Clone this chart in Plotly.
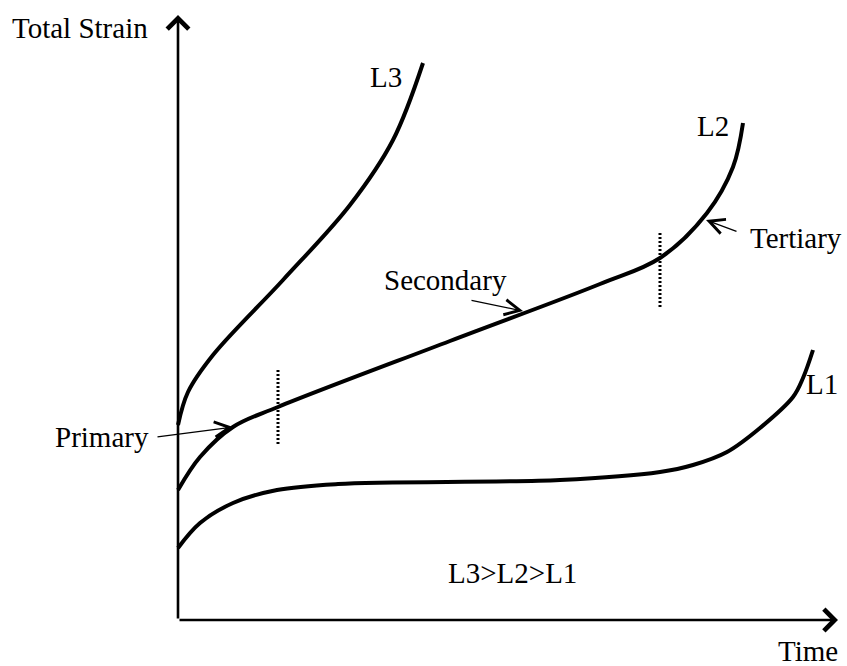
import plotly.graph_objects as go

# ---- data (arbitrary schematic units: time, total strain) ----
l3_time   = [0, 10, 35, 105, 172, 215, 245]
l3_strain = [195, 228, 265, 340, 415, 480, 557]

l2_time   = [0, 22, 55, 100, 272, 422, 482, 529, 555, 565]
l2_strain = [130, 163, 193, 213, 279, 336, 362, 407, 453, 497]

l1_time   = [0, 22, 55, 99, 160, 382, 482, 515, 549, 582, 615, 625, 635]
l1_strain = [72, 97, 117, 130, 136, 140, 148, 155, 168, 192, 223, 242, 270]

stage_times = [100, 482]            # primary/secondary and secondary/tertiary boundaries
stage_strain_ranges = [[176, 252], [313, 388]]

axis_time_max = 660
axis_strain_max = 605

curve_labels = ["L3", "L2", "L1"]
label_time = [208, 535, 644]
label_strain = [543, 494, 236]

FONT = "Liberation Serif"
FS = 29

fig = go.Figure()

for t, s in [(l3_time, l3_strain), (l2_time, l2_strain), (l1_time, l1_strain)]:
    fig.add_trace(go.Scatter(x=t, y=s, mode="lines",
                             line=dict(color="black", width=4, shape="spline", smoothing=1.0),
                             hoverinfo="skip", showlegend=False))

for t, (s0, s1) in zip(stage_times, stage_strain_ranges):
    fig.add_trace(go.Scatter(x=[t, t], y=[s0, s1], mode="lines",
                             line=dict(color="black", width=3, dash="2px,2px"),
                             hoverinfo="skip", showlegend=False))

ann = []
# axes with arrows
ann.append(dict(x=0, y=axis_strain_max, ax=0, ay=0, xref="x", yref="y", axref="x", ayref="y",
                text="", showarrow=True, arrowhead=4, arrowwidth=2.6, arrowsize=1.6,
                arrowcolor="black", standoff=0))
ann.append(dict(x=axis_time_max, y=0, ax=0, ay=0, xref="x", yref="y", axref="x", ayref="y",
                text="", showarrow=True, arrowhead=4, arrowwidth=2.6, arrowsize=1.6,
                arrowcolor="black", standoff=0))

# stage pointer arrows
pointers = [
    ("Primary", (-76, 183), (-22, 183), (55, 193)),
    ("Secondary", (267, 340), (292, 320), (345, 309)),
    ("Tertiary", (618, 382), (560, 388), (528, 400)),
]
for txt, (tx, ty), (ax_, ay_), (px, py) in pointers:
    ann.append(dict(x=px, y=py, ax=ax_, ay=ay_, xref="x", yref="y", axref="x", ayref="y",
                    text="", showarrow=True, arrowhead=5, arrowwidth=1.3, arrowsize=2.3,
                    arrowcolor="black", standoff=0))
    ann.append(dict(x=tx, y=ty, xref="x", yref="y", text=txt, showarrow=False,
                    font=dict(family=FONT, size=FS, color="black")))

for lab, t, s in zip(curve_labels, label_time, label_strain):
    ann.append(dict(x=t, y=s, xref="x", yref="y", text=lab, showarrow=False,
                    font=dict(family=FONT, size=FS, color="black")))

ann.append(dict(x=-98, y=592, xref="x", yref="y", text="Total Strain", showarrow=False,
                font=dict(family=FONT, size=FS, color="black")))
ann.append(dict(x=630, y=-31, xref="x", yref="y", text="Time", showarrow=False,
                font=dict(family=FONT, size=FS, color="black")))
ann.append(dict(x=334, y=47, xref="x", yref="y", text="L3&gt;L2&gt;L1", showarrow=False,
                font=dict(family=FONT, size=FS, color="black")))

fig.update_layout(
    width=847, height=666,
    margin=dict(l=0, r=0, t=0, b=0),
    paper_bgcolor="white", plot_bgcolor="white",
    xaxis=dict(range=[-178, 669], visible=False, fixedrange=True),
    yaxis=dict(range=[-46, 620], visible=False, fixedrange=True),
    annotations=ann,
    showlegend=False,
)

fig.write_html("out.html", config={"displayModeBar": False},
               post_script="document.body.style.margin='0';document.body.style.overflow='hidden';")
